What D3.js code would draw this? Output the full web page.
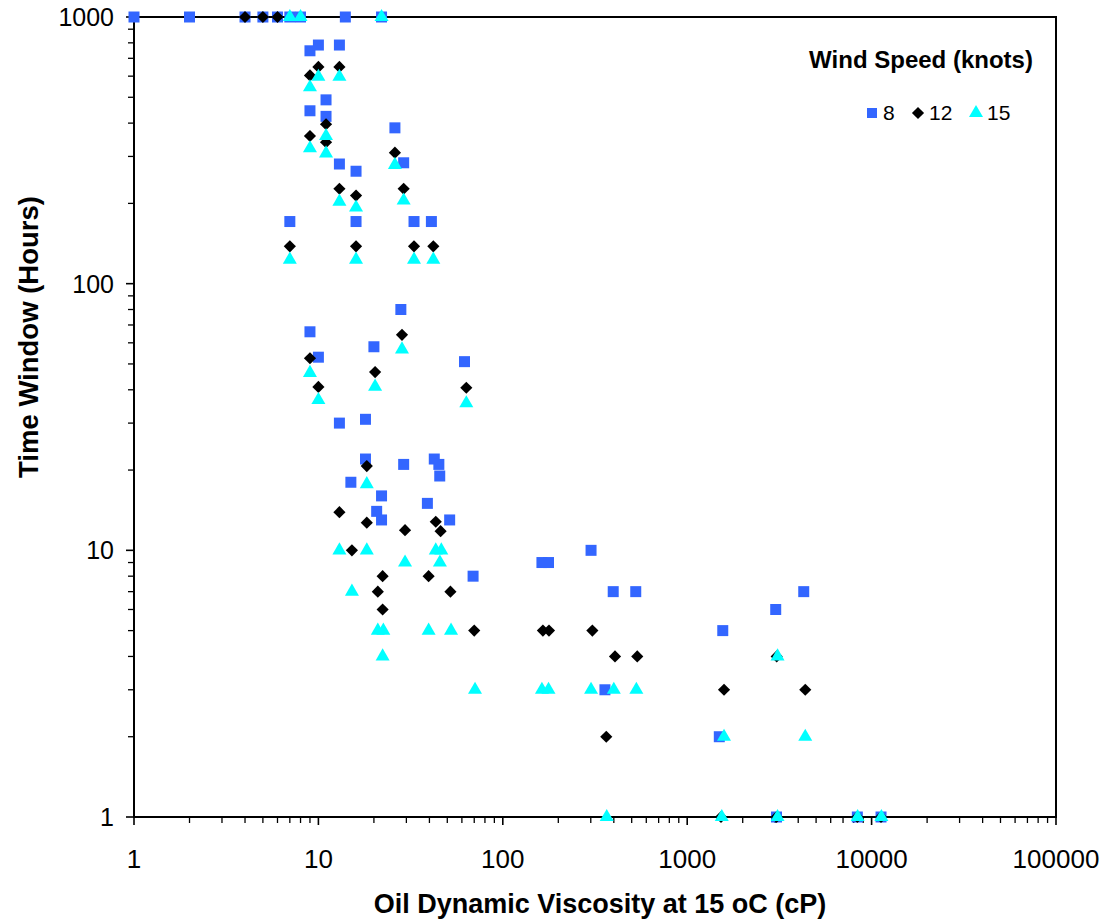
<!DOCTYPE html>
<html>
<head>
<meta charset="utf-8">
<script src="https://cdn.jsdelivr.net/npm/d3@7"></script>
<style>
  body { margin: 0; background: #fff; }
  text { font-family: "Liberation Sans", Arial, sans-serif; }
</style>
</head>
<body>
<svg id="chart" width="1102" height="922"></svg>
<script>
// legend entries
var windSpeeds = ["8", "12", "15"];

// [viscosity cP, time window hours]
var pts8 = [
    [1, 1000], [2, 1000], [4, 1000], [5, 1000], [6, 1000], [7, 1000], [8, 1000], [14, 1000], [22, 1000],
    [9, 747], [10, 785], [13, 785], [11, 489], [9, 445], [11, 424], [26, 384], [13, 281], [16, 264],
    [29, 284], [7, 171], [16, 171], [33, 171], [41, 171],
    [9, 66], [10, 53], [20, 58], [28, 80], [62, 51],
    [13, 30], [18, 31], [18, 22], [29, 21], [42.5, 22], [45, 21], [45.5, 19], [15, 18], [22, 16],
    [20.7, 14], [22, 13], [39, 15], [51.5, 13],
    [69, 8], [163, 9], [177, 9], [301, 10], [397, 7], [526, 7], [4285, 7], [3020, 6], [1559, 5],
    [358, 3], [1493, 2], [3050, 1], [8370, 1], [11250, 1]
];
var pts12 = [
    [4, 1000], [5, 1000], [6, 1000],
    [10, 650], [13, 650], [9, 604], [11, 396], [9, 358], [11, 339], [26, 310], [13, 227], [16, 214],
    [29, 227], [7, 138], [16, 138], [33, 138], [42, 138],
    [9, 52.5], [10, 41], [20.3, 46.6], [28.4, 64.3], [63.4, 40.7],
    [18.3, 20.7], [13, 13.9], [18.3, 12.7], [29.5, 11.9], [43.3, 12.8], [46, 11.8], [15.2, 10],
    [22.3, 8], [39.6, 8], [21, 7], [52, 7], [22.3, 6], [70, 5],
    [165, 5], [178, 5], [306, 5], [406, 4], [536, 4], [3057, 4], [1584, 3], [4368, 3], [364, 2],
    [1525, 1], [3050, 1], [8370, 1], [11250, 1]
];
var pts15 = [
    [7, 1000], [8, 1000], [22, 1000],
    [10, 597], [13, 597], [9, 545], [11, 358], [9, 322], [11, 308], [26, 279], [13, 203], [16, 193],
    [29, 205], [7, 123], [16, 123], [33, 123], [42, 123],
    [9, 46.3], [10, 36.6], [20.3, 41.1], [28.4, 56.7], [63.4, 35.6],
    [18.3, 17.7], [13, 10], [18.3, 10], [29.5, 9], [43.3, 10], [46.4, 10], [45.6, 9], [15.2, 7],
    [21, 5], [22.5, 5], [39.6, 5], [52.4, 5], [22.3, 4],
    [70.7, 3], [163, 3], [177, 3], [301, 3], [400, 3], [530, 3],
    [3090, 4], [4368, 2], [1584, 2],
    [366, 1], [1540, 1], [3090, 1], [8400, 1], [11300, 1]
];

var xTicks = [1, 10, 100, 1000, 10000, 100000];
var yTicks = [1, 10, 100, 1000];

var svg = d3.select("#chart");
var plot = { left: 134, right: 1056, top: 17, bottom: 817 };

var x = d3.scaleLog().domain([1, 100000]).range([plot.left, plot.right]);
var y = d3.scaleLog().domain([1, 1000]).range([plot.bottom, plot.top]);

// minor ticks 2..9 in every decade
function minors(lo, hi) {
    var out = [];
    for (var d = lo; d < hi; d *= 10)
        for (var k = 2; k <= 9; k++) out.push(d * k);
    return out;
}

// frame
svg.append("rect")
    .attr("x", plot.left).attr("y", plot.top)
    .attr("width", plot.right - plot.left).attr("height", plot.bottom - plot.top)
    .attr("fill", "none").attr("stroke", "#000").attr("stroke-width", 2);

// x axis ticks
var gx = svg.append("g").attr("transform", "translate(0," + plot.bottom + ")");
gx.selectAll("line.minor").data(minors(1, 100000)).enter().append("line")
    .attr("x1", d => x(d)).attr("x2", d => x(d)).attr("y1", 0).attr("y2", 6)
    .attr("stroke", "#000").attr("stroke-width", 1.3);
gx.selectAll("line.major").data(xTicks).enter().append("line")
    .attr("x1", d => x(d)).attr("x2", d => x(d)).attr("y1", 0).attr("y2", 8)
    .attr("stroke", "#000").attr("stroke-width", 1.6);
gx.selectAll("text").data(xTicks).enter().append("text")
    .attr("x", d => x(d)).attr("y", 51)
    .attr("text-anchor", "middle").attr("font-size", 26)
    .text(d => d);

// y axis ticks
var gy = svg.append("g").attr("transform", "translate(" + plot.left + ",0)");
gy.selectAll("line.minor").data(minors(1, 1000)).enter().append("line")
    .attr("x1", -6).attr("x2", 0).attr("y1", d => y(d)).attr("y2", d => y(d))
    .attr("stroke", "#000").attr("stroke-width", 1.3);
gy.selectAll("line.major").data(yTicks).enter().append("line")
    .attr("x1", -8).attr("x2", 0).attr("y1", d => y(d)).attr("y2", d => y(d))
    .attr("stroke", "#000").attr("stroke-width", 1.6);
gy.selectAll("text").data(yTicks).enter().append("text")
    .attr("x", -20).attr("y", d => y(d) + 9)
    .attr("text-anchor", "end").attr("font-size", 25)
    .text(d => d);

// axis titles
svg.append("text")
    .attr("x", 600).attr("y", 913)
    .attr("text-anchor", "middle").attr("font-size", 27).attr("font-weight", "bold")
    .text("Oil Dynamic Viscosity at 15 oC (cP)");
svg.append("text")
    .attr("transform", "translate(38,337) rotate(-90)")
    .attr("text-anchor", "middle").attr("font-size", 27.5).attr("font-weight", "bold")
    .text("Time Window (Hours)");

// markers
var shapes = [
    { data: pts8, symbol: d3.symbolSquare, size: 121, fill: "#3366ff", rotate: 0 },
    { data: pts12, symbol: d3.symbolSquare, size: 74, fill: "#000000", rotate: 45 },
    { data: pts15, symbol: d3.symbolTriangle, size: 85, fill: "#00ffff", rotate: 0 }
];

shapes.forEach(function(s) {
    svg.append("g").selectAll("path").data(s.data).enter().append("path")
        .attr("d", d3.symbol().type(s.symbol).size(s.size))
        .attr("transform", d => "translate(" + x(d[0]) + "," + y(d[1]) + ") rotate(" + s.rotate + ")")
        .attr("fill", s.fill);
});

// legend
var leg = svg.append("g");
leg.append("text")
    .attr("x", 921).attr("y", 68)
    .attr("text-anchor", "middle").attr("font-size", 24).attr("font-weight", "bold")
    .text("Wind Speed (knots)");

var legX = [872, 918, 976];
windSpeeds.forEach(function(w, i) {
    var s = shapes[i];
    leg.append("path")
        .attr("d", d3.symbol().type(s.symbol).size(i === 0 ? 100 : s.size))
        .attr("transform", "translate(" + legX[i] + ",113) rotate(" + s.rotate + ")")
        .attr("fill", s.fill);
    leg.append("text")
        .attr("x", legX[i] + 11).attr("y", 120)
        .attr("font-size", 21)
        .text(w);
});
</script>
</body>
</html>
